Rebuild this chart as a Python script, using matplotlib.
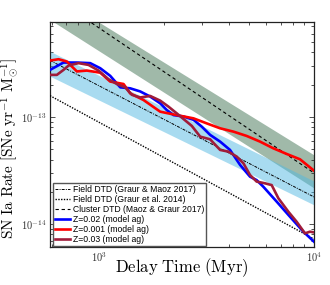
import matplotlib
matplotlib.use("Agg")
import matplotlib.pyplot as plt
import numpy as np
from matplotlib.ticker import LogLocator, NullFormatter

plt.rcParams['mathtext.fontset'] = 'cm'
plt.rcParams['font.family'] = ['Liberation Sans', 'DejaVu Sans']

# band / reference DTD end points (Myr, SNe yr^-1 Msun^-1)
t_ref = [590, 10000]
field_gm17 = [3.37e-13, 1.79e-14]
field_g14 = [1.58e-13, 7.24e-15]
cluster_mg17 = [1.38e-12, 3.0e-14]
field_band_hi = [4.1e-13, 2.52e-14]
field_band_lo = [2.4e-13, 1.51e-14]
cluster_band_hi = [1.47e-12, 4.42e-14]
cluster_band_lo = [8.1e-13, 2.17e-14]

# model ag curves
t_z002 = [590, 682, 787, 908, 1011, 1125, 1253, 1394, 1552, 1727, 1922, 2064, 2218,
          2466, 2748, 3006, 3283, 3656, 4064, 4529, 5036, 5408, 5808, 6700, 7730, 8913, 10000]
r_z002 = [2.75e-13, 3.22e-13, 3.22e-13, 3.18e-13, 2.85e-13, 2.42e-13, 1.89e-13, 1.85e-13,
          1.73e-13, 1.55e-13, 1.34e-13, 1.16e-13, 1.04e-13, 1.01e-13, 9.4e-14, 8.1e-14,
          6.8e-14, 5.88e-14, 4.92e-14, 3.56e-14, 2.77e-14, 2.57e-14, 2.23e-14, 1.62e-14,
          1.17e-14, 8.5e-15, 6.84e-15]

t_z0001 = [590, 647, 707, 787, 876, 1011, 1125, 1298, 1394, 1607, 1922, 2296, 2748,
           3170, 3656, 4217, 4863, 5610, 6471, 7464, 8610, 10000]
r_z0001 = [3.36e-13, 3.46e-13, 3.29e-13, 2.66e-13, 2.71e-13, 2.59e-13, 2.14e-13, 2.03e-13,
           1.66e-13, 1.44e-13, 1.12e-13, 1.04e-13, 9.7e-14, 8.7e-14, 7.83e-14, 7.29e-14,
           6.64e-14, 5.88e-14, 5.09e-14, 4.51e-14, 4.02e-14, 3.15e-14]

t_z003 = [590, 635, 682, 720, 801, 892, 993, 1105, 1208, 1321, 1419, 1552, 1727, 1922,
          2099, 2296, 2699, 2951, 3283, 3656, 3998, 4368, 4693, 5036, 5408, 5912, 6353,
          6826, 7603, 8303, 9078, 9574, 10000]
r_z003 = [2.47e-13, 2.47e-13, 2.75e-13, 3.02e-13, 3.18e-13, 3.06e-13, 2.71e-13, 2.25e-13,
          2.03e-13, 1.89e-13, 1.61e-13, 1.52e-13, 1.57e-13, 1.42e-13, 1.25e-13, 1.08e-13,
          8.24e-14, 6.55e-14, 6.18e-14, 4.92e-14, 4.74e-14, 4.26e-14, 3.69e-14, 2.87e-14,
          2.49e-14, 2.40e-14, 2.31e-14, 1.74e-14, 1.30e-14, 1.05e-14, 8.18e-15, 8.48e-15,
          8.35e-15]

fig = plt.figure(figsize=(3.3, 2.85), dpi=100)
ax = fig.add_axes([0.1515, 0.1333, 0.8, 0.7895])
ax.set_xscale('log')
ax.set_yscale('log')

ax.fill_between(t_ref, cluster_band_lo, cluster_band_hi, color='#a0b9a9', lw=0, zorder=1)
ax.fill_between(t_ref, field_band_lo, field_band_hi, color='#52b9e2', alpha=0.5, lw=0, zorder=2)

ax.plot(t_ref, field_gm17, color='k', lw=0.7, ls=(0, (3, 1.2, 1, 1.2)), zorder=3,
        label='Field DTD (Graur & Maoz 2017)')
ax.plot(t_ref, field_g14, color='k', lw=1.0, ls=(0, (1, 1)), zorder=3,
        label='Field DTD (Graur et al. 2014)')
ax.plot(t_ref, cluster_mg17, color='k', lw=0.8, ls=(0, (3, 2.5)), zorder=3,
        label='Cluster DTD (Maoz & Graur 2017)')

ax.plot(t_z002, r_z002, color='#0000ff', lw=1.9, zorder=4, label='Z=0.02 (model ag)')
ax.plot(t_z0001, r_z0001, color='#ff0000', lw=1.9, zorder=4, label='Z=0.001 (model ag)')
ax.plot(t_z003, r_z003, color='#a01c3a', lw=1.9, zorder=4, label='Z=0.03 (model ag)')

ax.set_xlim(590, 10000)
ax.set_ylim(6.1e-15, 7.7e-13)

ax.set_xticks([1e3, 1e4], labels=[r'$\mathsf{10^3}$', r'$\mathsf{10^4}$'])
ax.set_yticks([1e-14, 1e-13], labels=[r'$\mathsf{10^{-14}}$', r'$\mathsf{10^{-13}}$'])
ax.xaxis.set_minor_locator(LogLocator(base=10, subs=np.arange(2, 10)))
ax.yaxis.set_minor_locator(LogLocator(base=10, subs=np.arange(2, 10)))
ax.xaxis.set_minor_formatter(NullFormatter())
ax.yaxis.set_minor_formatter(NullFormatter())
ax.tick_params(which='both', direction='in', top=True, right=True, width=0.6,
               labelsize=7.5, colors='#333333', pad=2.5)
ax.tick_params(which='major', length=3.5)
ax.tick_params(which='minor', length=2)
for s in ax.spines.values():
    s.set_linewidth(0.9)
    s.set_color('#222222')

ax.set_xlabel(r'$\mathrm{Delay\ Time\ (Myr)}$', fontsize=12)
ax.xaxis.set_label_coords(0.5, -0.04)
ax.set_ylabel(r'$\mathrm{SN\ Ia\ Rate\ [SNe\ yr^{-1}\ M_{\odot}^{-1}]}$', fontsize=11)
ax.yaxis.set_label_coords(-0.108, 0.44)

leg = ax.legend(loc='lower left', bbox_to_anchor=(0.012, 0.005), fontsize=6.2,
                handlelength=1.7, handletextpad=0.3, labelspacing=0.1,
                borderpad=0.25, borderaxespad=0, fancybox=False, framealpha=1)
leg.get_frame().set_edgecolor('#555555')
leg.get_frame().set_linewidth(1.0)
leg.set_zorder(6)

fig.savefig('out.png', dpi=100)
